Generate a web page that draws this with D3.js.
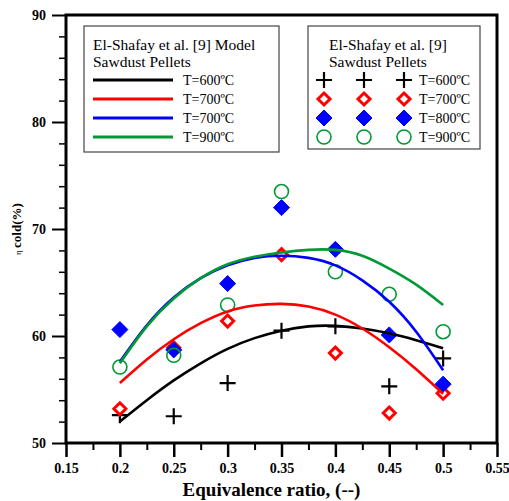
<!DOCTYPE html>
<html><head><meta charset="utf-8">
<script src="https://cdn.jsdelivr.net/npm/d3@7"></script>
<style>body{margin:0;background:#fff;} svg{display:block;}</style>
</head><body>
<svg id="chart" width="509" height="501"></svg>
<script>
// ---- data ----
const xCats = [0.2, 0.25, 0.3, 0.35, 0.4, 0.45, 0.5];
const exp600 = [52.6, 52.5, 55.6, 60.5, 60.9, 55.3, 57.9];
const exp700 = [53.2, 58.9, 61.4, 67.6, 58.4, 52.8, 54.65];
const exp800 = [60.6, 58.7, 64.9, 72.0, 68.1, 60.1, 55.5];
const exp900 = [57.1, 58.2, 62.9, 73.5, 66.0, 63.9, 60.4];

const curveX = [0.2, 0.225, 0.25, 0.275, 0.3, 0.325, 0.35, 0.375, 0.4, 0.425, 0.45, 0.475, 0.5];
const model600 = [52.0, 54.0, 55.85, 57.45, 58.8, 59.8, 60.5, 60.9, 60.95, 60.7, 60.25, 59.6, 58.85];
const model700a = [55.6, 57.8, 59.7, 61.2, 62.3, 62.85, 63.0, 62.75, 62.0, 60.7, 58.95, 56.9, 54.6];
const model700b = [57.6, 61.0, 63.6, 65.4, 66.6, 67.3, 67.5, 67.3, 66.6, 65.2, 63.2, 60.4, 56.8];
const model900 = [57.45, 60.9, 63.5, 65.4, 66.7, 67.4, 67.8, 68.05, 68.05, 67.5, 66.3, 64.8, 62.9];

const xTicks = [0.15, 0.2, 0.25, 0.3, 0.35, 0.4, 0.45, 0.5, 0.55];
const xTickLabels = ["0.15","0.2","0.25","0.3","0.35","0.4","0.45","0.5","0.55"];
const yTicks = [50, 60, 70, 80, 90];
const modelLabels = ["T=600ºC", "T=700ºC", "T=700ºC", "T=900ºC"];
const expLabels = ["T=600ºC", "T=700ºC", "T=800ºC", "T=900ºC"];
const colors = ["#000000", "#ff0000", "#0000ff", "#009933"];

// ---- layout ----
const L = 66, R = 497, T = 15, B = 443;
const serif = "Liberation Serif, Times New Roman, serif";
const svg = d3.select("#chart");
const x = d3.scaleLinear().domain([0.15, 0.55]).range([L, R]);
const y = d3.scaleLinear().domain([50, 90]).range([B, T]);

// axes
const xAxis = d3.axisBottom(x).tickValues(xTicks).tickFormat((d, i) => xTickLabels[i]).tickSize(14).tickPadding(6);
const gx = svg.append("g").attr("transform", `translate(0,${B})`).call(xAxis)
  .attr("font-family", serif).attr("font-size", 14).attr("font-weight", "bold");
gx.select(".domain").remove();
gx.selectAll(".tick line").attr("stroke", "#000").attr("stroke-width", 2.5);
gx.selectAll(".tick text").attr("fill", "#000");
const xMinor = d3.axisBottom(x).tickValues(d3.range(0.175, 0.55, 0.05)).tickFormat("").tickSize(7);
const gxm = svg.append("g").attr("transform", `translate(0,${B})`).call(xMinor);
gxm.select(".domain").remove();
gxm.selectAll(".tick line").attr("stroke", "#000").attr("stroke-width", 2);

const yAxis = d3.axisLeft(y).tickValues(yTicks).tickFormat(d3.format("d")).tickSize(14).tickPadding(6);
const gy = svg.append("g").attr("transform", `translate(${L},0)`).call(yAxis)
  .attr("font-family", serif).attr("font-size", 14).attr("font-weight", "bold");
gy.select(".domain").remove();
gy.selectAll(".tick line").attr("stroke", "#000").attr("stroke-width", 2);
gy.selectAll(".tick text").attr("fill", "#000");
const yMinorVals = d3.range(52, 90, 2).filter(v => v % 10 !== 0);
const yMinor = d3.axisLeft(y).tickValues(yMinorVals).tickFormat("").tickSize(7);
const gym = svg.append("g").attr("transform", `translate(${L},0)`).call(yMinor);
gym.select(".domain").remove();
gym.selectAll(".tick line").attr("stroke", "#000").attr("stroke-width", 1.5);

// frame
svg.append("rect").attr("x", L).attr("y", T).attr("width", R - L).attr("height", B - T)
  .attr("fill", "none").attr("stroke", "#000").attr("stroke-width", 3);

// axis titles
svg.append("text").attr("x", (L + R) / 2 - 10).attr("y", 496).attr("text-anchor", "middle")
  .attr("font-family", serif).attr("font-weight", "bold").attr("font-size", 19).text("Equivalence ratio, (--)");
const yt = svg.append("text").attr("transform", "translate(21,229) rotate(-90)").attr("text-anchor", "middle")
  .attr("font-family", serif).attr("font-weight", "bold").attr("font-size", 13);
yt.append("tspan").attr("font-weight", "normal").attr("font-size", 9).text("η ");
yt.append("tspan").text("cold(%)");

// markers
function plus(g, cx, cy, s, col) {
  g.append("path").attr("d", `M${cx - s},${cy}H${cx + s}M${cx},${cy - s}V${cy + s}`)
    .attr("stroke", col).attr("stroke-width", 2.2).attr("fill", "none");
}
function diamond(g, cx, cy, s, col, filled) {
  g.append("path").attr("d", `M${cx},${cy - s}L${cx + s},${cy}L${cx},${cy + s}L${cx - s},${cy}Z`)
    .attr("fill", filled ? col : "#fff").attr("stroke", col).attr("stroke-width", filled ? 1 : 3);
}
function circ(g, cx, cy, r, col) {
  g.append("circle").attr("cx", cx).attr("cy", cy).attr("r", r).attr("fill", "none")
    .attr("stroke", col).attr("stroke-width", 1.6);
}
const gm = svg.append("g");
xCats.forEach((xv, i) => plus(gm, x(xv), y(exp600[i]), 8, colors[0]));
xCats.forEach((xv, i) => diamond(gm, x(xv), y(exp700[i]), 6, colors[1], false));
xCats.forEach((xv, i) => diamond(gm, x(xv), y(exp800[i]), 8, colors[2], true));
xCats.forEach((xv, i) => circ(gm, x(xv), y(exp900[i]), 7, colors[3]));

// model curves
const line = d3.line().x((d, i) => x(curveX[i])).y(d => y(d)).curve(d3.curveNatural);
[model600, model700a, model700b, model900].forEach((s, k) => {
  svg.append("path").attr("d", line(s)).attr("fill", "none").attr("stroke", colors[k]).attr("stroke-width", 2.6);
});

// legend 1
const lg1 = svg.append("g").attr("font-family", serif);
lg1.append("rect").attr("x", 84).attr("y", 26).attr("width", 195).attr("height", 126)
  .attr("fill", "#fff").attr("stroke", "#444").attr("stroke-width", 1.2);
lg1.append("text").attr("x", 93).attr("y", 50).attr("font-size", 15.5).text("El-Shafay et al. [9] Model");
lg1.append("text").attr("x", 93).attr("y", 67).attr("font-size", 15.5).text("Sawdust Pellets");
const rowY = [80, 99, 118, 137];
modelLabels.forEach((t, k) => {
  lg1.append("line").attr("x1", 93).attr("x2", 173).attr("y1", rowY[k]).attr("y2", rowY[k])
    .attr("stroke", colors[k]).attr("stroke-width", 2.8);
  lg1.append("text").attr("x", 183).attr("y", rowY[k] + 5).attr("font-size", 14).text(t);
});

// legend 2
const lg2 = svg.append("g").attr("font-family", serif);
lg2.append("rect").attr("x", 308).attr("y", 26).attr("width", 172).attr("height", 123)
  .attr("fill", "#fff").attr("stroke", "#444").attr("stroke-width", 1.2);
lg2.append("text").attr("x", 329).attr("y", 50).attr("font-size", 15.5).text("El-Shafay et al. [9]");
lg2.append("text").attr("x", 329).attr("y", 67).attr("font-size", 15.5).text("Sawdust Pellets");
const symX = [324, 364, 404];
expLabels.forEach((t, k) => {
  symX.forEach(sx => {
    if (k === 0) plus(lg2, sx, rowY[k], 8, colors[0]);
    else if (k === 1) diamond(lg2, sx, rowY[k], 6, colors[1], false);
    else if (k === 2) diamond(lg2, sx, rowY[k], 8, colors[2], true);
    else circ(lg2, sx, rowY[k], 7, colors[3]);
  });
  lg2.append("text").attr("x", 419).attr("y", rowY[k] + 5).attr("font-size", 14).text(t);
});
</script>
</body></html>
